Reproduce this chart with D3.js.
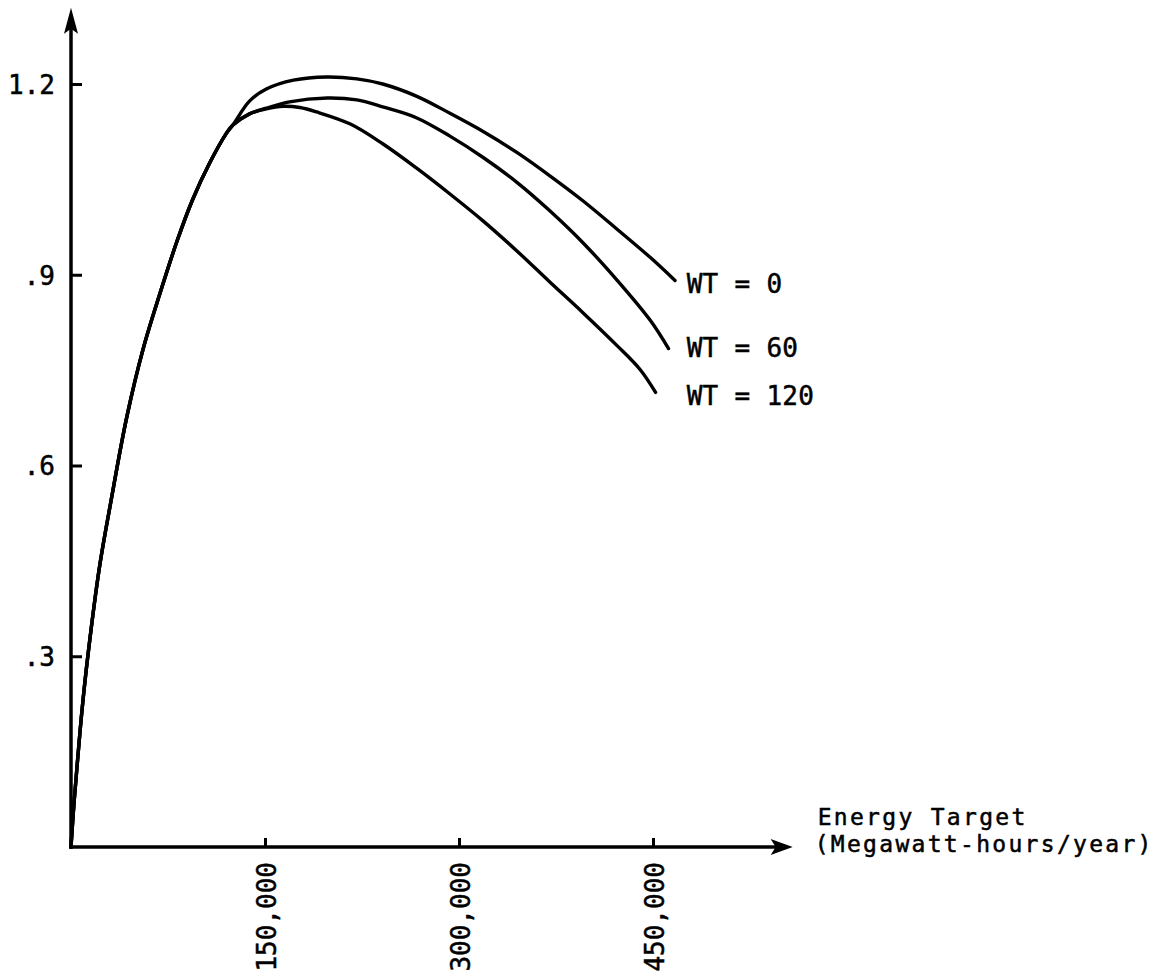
<!DOCTYPE html>
<html>
<head>
<meta charset="utf-8">
<script src="https://cdn.jsdelivr.net/npm/d3@7/dist/d3.min.js"></script>
<style>
  html, body { margin: 0; padding: 0; background: #fff; }
  svg { display: block; }
  text { font-family: "DejaVu Sans Mono", "Liberation Mono", monospace; fill: #000; stroke: #000; stroke-width: 0.5px; }
</style>
</head>
<body>
<svg id="chart" width="1168" height="976"></svg>
<script>
// ---- data ----
const xTickValues = [150000, 300000, 450000];
const xTickLabels = ["150,000", "300,000", "450,000"];
const yTickValues = [0.3, 0.6, 0.9, 1.2];
const yTickLabels = [".3", ".6", ".9", "1.2"];

// shared rising part of all three curves
const commonX = [0, 2000, 4600, 8500, 13000, 22000, 31000, 43000, 56000, 69000, 82000, 94000, 107000, 120000, 125000];
const commonY = [0, 0.06, 0.125, 0.215, 0.30, 0.44, 0.545, 0.675, 0.785, 0.872, 0.953, 1.018, 1.075, 1.122, 1.135];

const wt0X = [138000, 151000, 172000, 198000, 221000, 241000, 267000, 293000, 319000, 345000, 370000, 396000, 422000, 448000, 467000];
const wt0Y = [1.173, 1.192, 1.206, 1.211, 1.208, 1.200, 1.181, 1.154, 1.125, 1.092, 1.056, 1.016, 0.972, 0.927, 0.891];

const wt60X = [138000, 151000, 169000, 198000, 221000, 241000, 267000, 293000, 319000, 345000, 370000, 396000, 422000, 448000, 462000];
const wt60Y = [1.153, 1.162, 1.172, 1.178, 1.175, 1.164, 1.147, 1.118, 1.084, 1.045, 1.001, 0.950, 0.892, 0.828, 0.784];

const wt120X = [138000, 151000, 164000, 177000, 190000, 216000, 241000, 267000, 293000, 319000, 345000, 370000, 396000, 422000, 440000, 452000];
const wt120Y = [1.153, 1.161, 1.165, 1.163, 1.156, 1.137, 1.106, 1.068, 1.027, 0.984, 0.937, 0.889, 0.840, 0.789, 0.751, 0.715];

const seriesNames = ["WT = 0", "WT = 60", "WT = 120"];
const seriesLabelY = [0.885, 0.785, 0.71];
const xAxisTitle = ["Energy Target", "(Megawatt-hours/year)"];
const xAxisEnd = 558000;
const yAxisEnd = 1.32;

// ---- scales ----
const svg = d3.select("#chart");
const x = d3.scaleLinear().domain([0, 450000]).range([71, 653]);
const y = d3.scaleLinear().domain([0, 1.2]).range([847, 84]);

const x0 = x(0), y0 = y(0);

function build(xs, ys) {
  const pts = commonX.map((v, i) => [v, commonY[i]]);
  xs.forEach((v, i) => pts.push([v, ys[i]]));
  return pts;
}
const series = [build(wt0X, wt0Y), build(wt60X, wt60Y), build(wt120X, wt120Y)];

// ---- axes ----
const yAxis = d3.axisLeft(y).tickValues(yTickValues)
  .tickFormat((d, i) => yTickLabels[i]).tickSizeInner(-11).tickSizeOuter(0).tickPadding(16);
const gy = svg.append("g").attr("transform", `translate(${x0},0)`).call(yAxis);
gy.select(".domain").remove();
gy.selectAll(".tick line").attr("stroke", "#000").attr("stroke-width", 3);
gy.selectAll(".tick text").attr("font-size", 26).attr("font-family", "DejaVu Sans Mono")
  .attr("fill", "#000").attr("dy", "0.36em");

const xAxis = d3.axisBottom(x).tickValues(xTickValues)
  .tickFormat((d, i) => xTickLabels[i]).tickSizeInner(-9).tickSizeOuter(0);
const gx = svg.append("g").attr("transform", `translate(0,${y0})`).call(xAxis);
gx.select(".domain").remove();
gx.selectAll(".tick line").attr("stroke", "#000").attr("stroke-width", 3);
gx.selectAll(".tick text")
  .attr("font-size", 26).attr("font-family", "DejaVu Sans Mono").attr("fill", "#000")
  .attr("text-anchor", "end").attr("y", 0).attr("dy", 0)
  .attr("transform", "translate(10,15) rotate(-90)");

// axis lines with arrows
svg.append("line").attr("x1", x0).attr("y1", y0 + 1.75).attr("x2", x0).attr("y2", y(1.29))
  .attr("stroke", "#000").attr("stroke-width", 3.5);
svg.append("line").attr("x1", x0 - 1.75).attr("y1", y0).attr("x2", x(xAxisEnd) - 10).attr("y2", y0)
  .attr("stroke", "#000").attr("stroke-width", 3.5);

const ty = y(yAxisEnd);
svg.append("path")
  .attr("d", `M${x0},${ty} L${x0 - 7},${ty + 26} L${x0},${ty + 21} L${x0 + 7},${ty + 26} Z`)
  .attr("fill", "#000");
const tx = x(xAxisEnd);
svg.append("path")
  .attr("d", `M${tx},${y0} L${tx - 22},${y0 - 8} L${tx - 17},${y0} L${tx - 22},${y0 + 8} Z`)
  .attr("fill", "#000");

// axis title (two lines)
svg.append("text").attr("x", tx + 25).attr("y", y0 - 22).attr("font-size", 23)
  .attr("letter-spacing", 2.3).text(xAxisTitle[0]);
svg.append("text").attr("x", tx + 22).attr("y", y0 + 5).attr("font-size", 23)
  .attr("letter-spacing", 2.3).text(xAxisTitle[1]);

// ---- curves ----
const line = d3.line().x(d => x(d[0])).y(d => y(d[1])).curve(d3.curveCatmullRom.alpha(0.5));
svg.append("g").selectAll("path").data(series).join("path")
  .attr("d", line).attr("fill", "none").attr("stroke", "#000")
  .attr("stroke-width", 3.4).attr("stroke-linejoin", "round").attr("stroke-linecap", "round");

// ---- series labels ----
svg.append("g").selectAll("text").data(seriesNames).join("text")
  .attr("x", x(476000)).attr("y", (d, i) => y(seriesLabelY[i]) + 9)
  .attr("font-size", 26).attr("letter-spacing", 0.3)
  .attr("xml:space", "preserve").style("white-space", "pre")
  .text(d => d);
</script>
</body>
</html>
